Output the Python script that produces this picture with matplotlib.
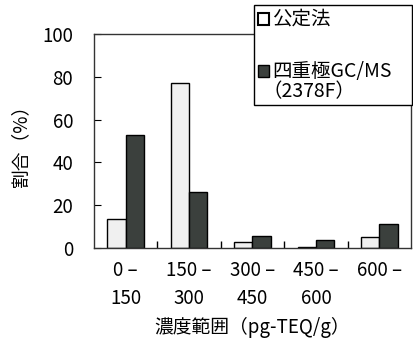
import numpy as np
import matplotlib
matplotlib.use("Agg")
import matplotlib.pyplot as plt
from matplotlib.patches import Rectangle

plt.rcParams['font.family'] = ['Noto Sans CJK JP', 'DejaVu Sans']

# --- data ---
categories = ["0 –\n150", "150 –\n300", "300 –\n450", "450 –\n600", "600 –\n"]
official = [13.5, 77, 2.8, 0.6, 5]
quad_gcms = [53, 26, 5.6, 3.8, 11]
series_names = ["公定法", "四重極GC/MS", "（2378F）"]

W, H = 414, 343
LIGHT = '#f0f0f0'
DARK = '#3b403d'
FS = 13.5

fig = plt.figure(figsize=(W / 100, H / 100), dpi=100)
ax = fig.add_axes([94 / W, 1 - 248 / H, 317 / W, 214 / H])

x = np.arange(len(categories))
w = 0.29
ax.bar(x - w / 2, official, width=w, color=LIGHT, edgecolor='black', linewidth=1.0)
ax.bar(x + w / 2, quad_gcms, width=w, color=DARK, edgecolor='black', linewidth=1.0)

ax.set_xlim(-0.5, len(categories) - 0.5)
ax.set_ylim(0, 100)
ax.set_yticks([0, 20, 40, 60, 80, 100])
ax.set_xticks(x)
ax.set_xticklabels(categories, fontsize=FS, linespacing=1.4)
ax.set_xticks(x[:-1] + 0.5, minor=True)
ax.tick_params(axis='x', which='major', length=0, pad=9)
ax.tick_params(axis='x', which='minor', direction='in', length=5, width=1)
ax.tick_params(axis='y', direction='in', length=5, labelsize=FS, pad=15)
for s in ax.spines.values():
    s.set_linewidth(1.0)
    s.set_color('#333333')

ax.set_ylabel("割合（%）", fontsize=FS, labelpad=8)
ax.set_xlabel("濃度範囲（pg-TEQ/g）", fontsize=FS, labelpad=6)

# legend box drawn by hand (overlaps the top of the frame like the original)
def px(xp, yp):
    return xp / W, 1 - yp / H

fig.add_artist(Rectangle(px(254, 105), 158 / W, 100 / H, transform=fig.transFigure,
                         facecolor='white', edgecolor='black', linewidth=1.0))
fig.add_artist(Rectangle(px(258, 25), 11 / W, 12 / H, transform=fig.transFigure,
                         facecolor='white', edgecolor='black', linewidth=1.5))
fig.add_artist(Rectangle(px(258, 77), 11 / W, 12 / H, transform=fig.transFigure,
                         facecolor=DARK, edgecolor='black', linewidth=1.0))
fig.text(*px(272, 19), series_names[0], fontsize=FS + 0.5, va='center', ha='left')
fig.text(*px(272, 71), series_names[1], fontsize=FS + 0.5, va='center', ha='left')
fig.text(*px(262, 92), series_names[2], fontsize=FS + 0.5, va='center', ha='left')

fig.savefig("out.png", dpi=100)
